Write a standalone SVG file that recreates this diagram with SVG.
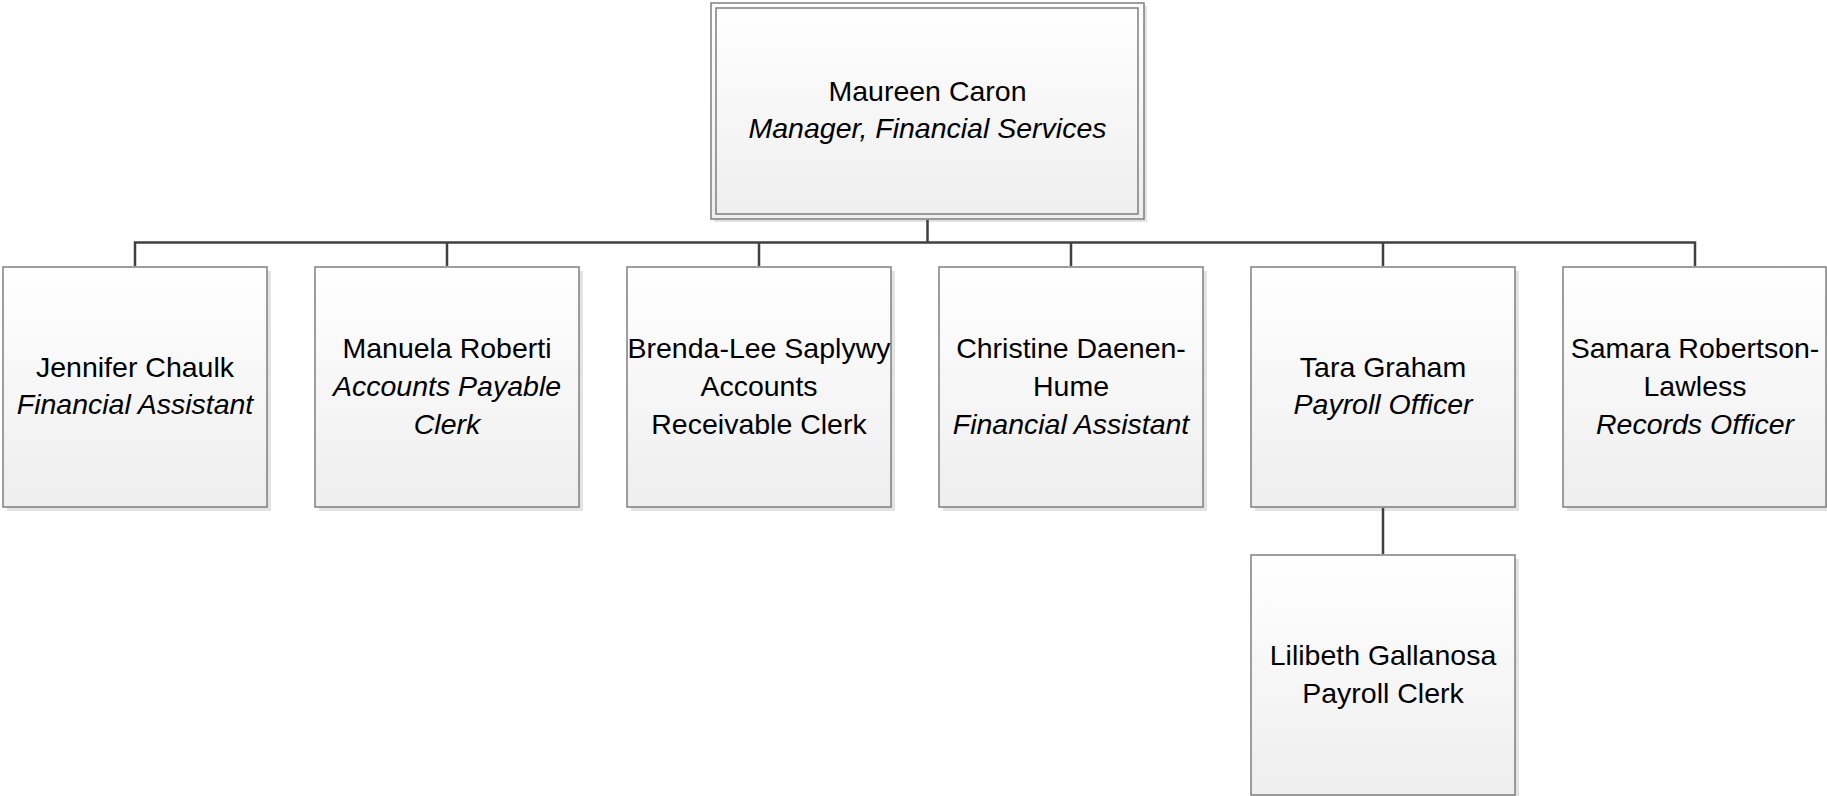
<svg xmlns="http://www.w3.org/2000/svg" width="1827" height="796" viewBox="0 0 1827 796">
<defs>
<linearGradient id="g" x1="0" y1="0" x2="0" y2="1">
<stop offset="0" stop-color="#ffffff"/>
<stop offset="1" stop-color="#eeeeee"/>
</linearGradient>
</defs>
<style>
.box{fill:url(#g);stroke:#7f7f7f;stroke-width:1.5}
.sh{fill:#e3e3e3}
.t{font-family:"Liberation Sans",Arial,sans-serif;font-size:28.5px;fill:#000;text-anchor:middle}
.i{font-style:italic}
.c{fill:none;stroke:#404040;stroke-width:2.5}
</style>
<rect width="1827" height="796" fill="#fff"/>
<g id="maureen">
<rect class="sh" x="714" y="6" width="433" height="216"/>
<rect class="box" x="711" y="3" width="433" height="216"/>
<rect fill="none" stroke="#7f7f7f" stroke-width="1.5" x="716" y="8" width="422" height="206"/>
<text class="t" x="927.5" y="101">Maureen Caron</text>
<text class="t i" x="927.5" y="138">Manager, Financial Services</text>
</g>
<g id="jennifer">
<rect class="sh" x="7" y="271" width="264" height="240"/>
<rect class="box" x="3" y="267" width="264" height="240"/>
<text class="t" x="135" y="377">Jennifer Chaulk</text>
<text class="t i" x="135" y="414">Financial Assistant</text>
</g>
<g id="manuela">
<rect class="sh" x="319" y="271" width="264" height="240"/>
<rect class="box" x="315" y="267" width="264" height="240"/>
<text class="t" x="447" y="358">Manuela Roberti</text>
<text class="t i" x="447" y="396">Accounts Payable</text>
<text class="t i" x="447" y="434">Clerk</text>
</g>
<g id="brenda">
<rect class="sh" x="631" y="271" width="264" height="240"/>
<rect class="box" x="627" y="267" width="264" height="240"/>
<text class="t" x="759" y="358">Brenda-Lee Saplywy</text>
<text class="t" x="759" y="396">Accounts</text>
<text class="t" x="759" y="434">Receivable Clerk</text>
</g>
<g id="christine">
<rect class="sh" x="943" y="271" width="264" height="240"/>
<rect class="box" x="939" y="267" width="264" height="240"/>
<text class="t" x="1071" y="358">Christine Daenen-</text>
<text class="t" x="1071" y="396">Hume</text>
<text class="t i" x="1071" y="434">Financial Assistant</text>
</g>
<g id="tara">
<rect class="sh" x="1255" y="271" width="264" height="240"/>
<rect class="box" x="1251" y="267" width="264" height="240"/>
<text class="t" x="1383" y="377">Tara Graham</text>
<text class="t i" x="1383" y="414">Payroll Officer</text>
</g>
<g id="samara">
<rect class="sh" x="1567" y="271" width="264" height="240"/>
<rect class="box" x="1563" y="267" width="263" height="240"/>
<text class="t" x="1695" y="358">Samara Robertson-</text>
<text class="t" x="1695" y="396">Lawless</text>
<text class="t i" x="1695" y="434">Records Officer</text>
</g>
<g id="lilibeth">
<rect class="sh" x="1255" y="559" width="264" height="240"/>
<rect class="box" x="1251" y="555" width="264" height="240"/>
<text class="t" x="1383" y="665">Lilibeth Gallanosa</text>
<text class="t" x="1383" y="703">Payroll Clerk</text>
</g>
<g id="connectors">
<path class="c" d="M927.5 220V242.5M135 266V242.5H1695V266M447 242.5V266M759 242.5V266M1071 242.5V266M1383 242.5V266M1383 508V554"/>
</g>
</svg>
